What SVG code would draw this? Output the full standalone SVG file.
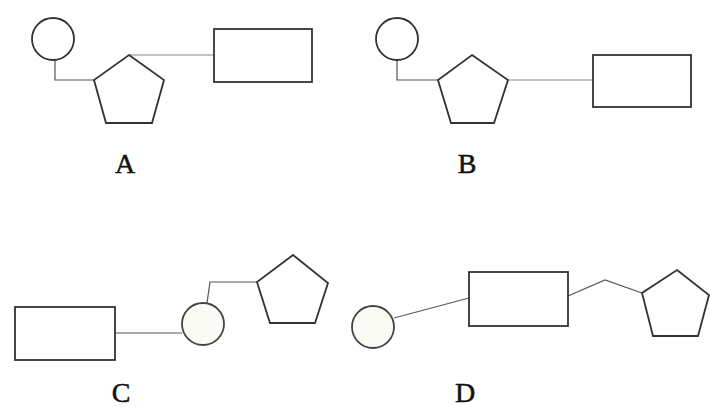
<svg xmlns="http://www.w3.org/2000/svg" width="710" height="407" viewBox="0 0 710 407">
<style>
.shape{fill:#fff;stroke:#333;stroke-width:1.8}
.circ{fill:#fbfbf6;stroke:#444;stroke-width:1.8}
.conn{fill:none;stroke:#555;stroke-width:1.2}
.lbl{font-family:"Liberation Serif",serif;font-size:28px;fill:#111;stroke:#111;stroke-width:0.5;text-anchor:middle}
</style>
<rect width="710" height="407" fill="#fff"/>
<g id="connectors">
<polyline class="conn" points="55,60 55,80 95,80"/>
<polyline class="conn" points="129,55 214,55" style="stroke:#888"/>
<polyline class="conn" points="397,60 397,80 438,80"/>
<polyline class="conn" points="508,80 593,80" style="stroke:#888"/>
<polyline class="conn" points="115,333 182,333"/>
<polyline class="conn" points="207,303 210,282 257,282"/>
<polyline class="conn" points="394,318 469,298"/>
<polyline class="conn" points="568,296 605,280 642,293"/>
</g>
<g id="A">
<circle id="A-circle" class="shape" cx="53" cy="39" r="21"/>
<polygon id="A-pentagon" class="shape" points="129,55 164,80 152,123 106,123 94,80"/>
<rect id="A-rect" class="shape" x="214" y="29" width="98" height="53"/>
<text class="lbl" x="125" y="173">A</text>
</g>
<g id="B">
<circle id="B-circle" class="shape" cx="397" cy="39" r="21"/>
<polygon id="B-pentagon" class="shape" points="472,55 508,80 494,123 451,123 438,80"/>
<rect id="B-rect" class="shape" x="593" y="55" width="98" height="52"/>
<text class="lbl" x="467" y="173">B</text>
</g>
<g id="C">
<rect id="C-rect" class="shape" x="15" y="307" width="100" height="53"/>
<circle id="C-circle" class="circ" cx="203" cy="324" r="21"/>
<polygon id="C-pentagon" class="shape" points="293,255 328,283 315,323 270,323 257,282"/>
<text class="lbl" x="121" y="402">C</text>
</g>
<g id="D">
<circle id="D-circle" class="circ" cx="373" cy="327" r="21"/>
<rect id="D-rect" class="shape" x="469" y="272" width="99" height="54"/>
<polygon id="D-pentagon" class="shape" points="677,270 709,295 698,336 653,336 642,293"/>
<text class="lbl" x="465" y="402">D</text>
</g>
</svg>
